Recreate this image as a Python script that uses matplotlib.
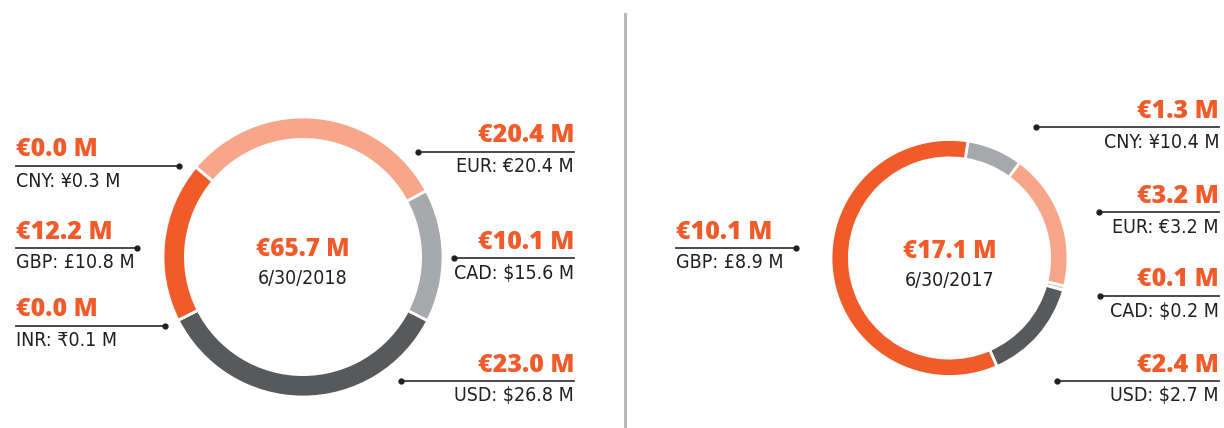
import matplotlib
matplotlib.use("Agg")
import matplotlib.pyplot as plt

# data ------------------------------------------------------------
left_ccy = ["EUR", "CAD", "USD", "INR", "GBP", "CNY"]
left_eur = [20.4, 10.1, 23.0, 0.0, 12.2, 0.0]
left_local = ["€20.4 M", "$15.6 M", "$26.8 M", "₹0.1 M", "£10.8 M", "¥0.3 M"]
left_total = "€65.7 M"
left_date = "6/30/2018"

right_ccy = ["CNY", "EUR", "CAD", "USD", "GBP"]
right_eur = [1.3, 3.2, 0.1, 2.4, 10.1]
right_local = ["¥10.4 M", "€3.2 M", "$0.2 M", "$2.7 M", "£8.9 M"]
right_total = "€17.1 M"
right_date = "6/30/2017"

# style -----------------------------------------------------------
ORANGE = "#F15A29"
colors = {"EUR": "#F7A68A", "CAD": "#A7A9AC", "USD": "#58595B",
          "INR": "#58595B", "GBP": "#F15A29", "CNY": "#A7A9AC"}
right_colors = {"CNY": "#A7A9AC", "EUR": "#F7A68A", "CAD": "#C8C9CB",
                "USD": "#58595B", "GBP": "#F15A29"}
TXT = "#231F20"
BOLD = ["Open Sans", "DejaVu Sans"]
NARROW = ["DejaVu Sans"]

W, H = 1224, 428
fig = plt.figure(figsize=(W / 100, H / 100), dpi=100)

# overlay axes in pixel coordinates
ov = fig.add_axes([0, 0, 1, 1])
ov.set_xlim(0, W)
ov.set_ylim(H, 0)
ov.axis("off")


def donut(cx, cy, r, width, vals, cols, start, total, date):
    ax = fig.add_axes([(cx - r) / W, (H - cy - r) / H, 2 * r / W, 2 * r / H])
    ax.pie(vals, colors=cols, startangle=start, counterclock=False, radius=1,
           wedgeprops=dict(width=width, edgecolor="white", linewidth=2))
    ax.set_xlim(-1.0, 1.0)
    ax.set_ylim(-1.0, 1.0)
    ov.text(cx, cy - 7, total, color=ORANGE, fontsize=17.5, fontweight="heavy",
            family=BOLD, ha="center", va="center")
    ov.text(cx, cy + 22, date, color=TXT, fontsize=14, family=NARROW,
            fontstretch="condensed", ha="center", va="center")


def callout(xtext, xdot, yline, eur, sub, side):
    ha = "left" if side == "left" else "right"
    ov.plot([xtext, xdot], [yline, yline], color="#3a3a3a", lw=1.3)
    ov.plot([xdot], [yline], "o", color=TXT, ms=3.5)
    ov.text(xtext, yline - 16, f"€{eur:.1f} M", color=ORANGE, fontsize=18,
            fontweight="heavy", family=BOLD, ha=ha, va="center")
    ov.text(xtext, yline + 15, sub, color=TXT, fontsize=14, family=NARROW,
            fontstretch="condensed", ha=ha, va="center")


# left donut (2018)
donut(303, 257, 140, 0.16, left_eur, [colors[c] for c in left_ccy], 140,
      left_total, left_date)
left_layout = {"EUR": (574, 418, 152, "right"), "CAD": (574, 454, 258, "right"),
               "USD": (574, 401, 381, "right"), "INR": (16, 165, 326, "left"),
               "GBP": (16, 137, 248, "left"), "CNY": (16, 179, 166, "left")}
for c, v, loc in zip(left_ccy, left_eur, left_local):
    xt, xd, yl, side = left_layout[c]
    callout(xt, xd, yl, v, f"{c}: {loc}", side)

# divider
ov.plot([625, 625], [14, 428], color="#B3B3B3", lw=2)

# right donut (2017)
donut(949.5, 258, 118.5, 0.155, right_eur, [right_colors[c] for c in right_ccy],
      81, right_total, right_date)
right_layout = {"CNY": (1219, 1036, 127, "right"), "EUR": (1219, 1099, 212, "right"),
                "CAD": (1219, 1100, 296, "right"), "USD": (1219, 1057, 381, "right"),
                "GBP": (676, 796, 248, "left")}
for c, v, loc in zip(right_ccy, right_eur, right_local):
    xt, xd, yl, side = right_layout[c]
    callout(xt, xd, yl, v, f"{c}: {loc}", side)

fig.savefig("out.png", dpi=100)
